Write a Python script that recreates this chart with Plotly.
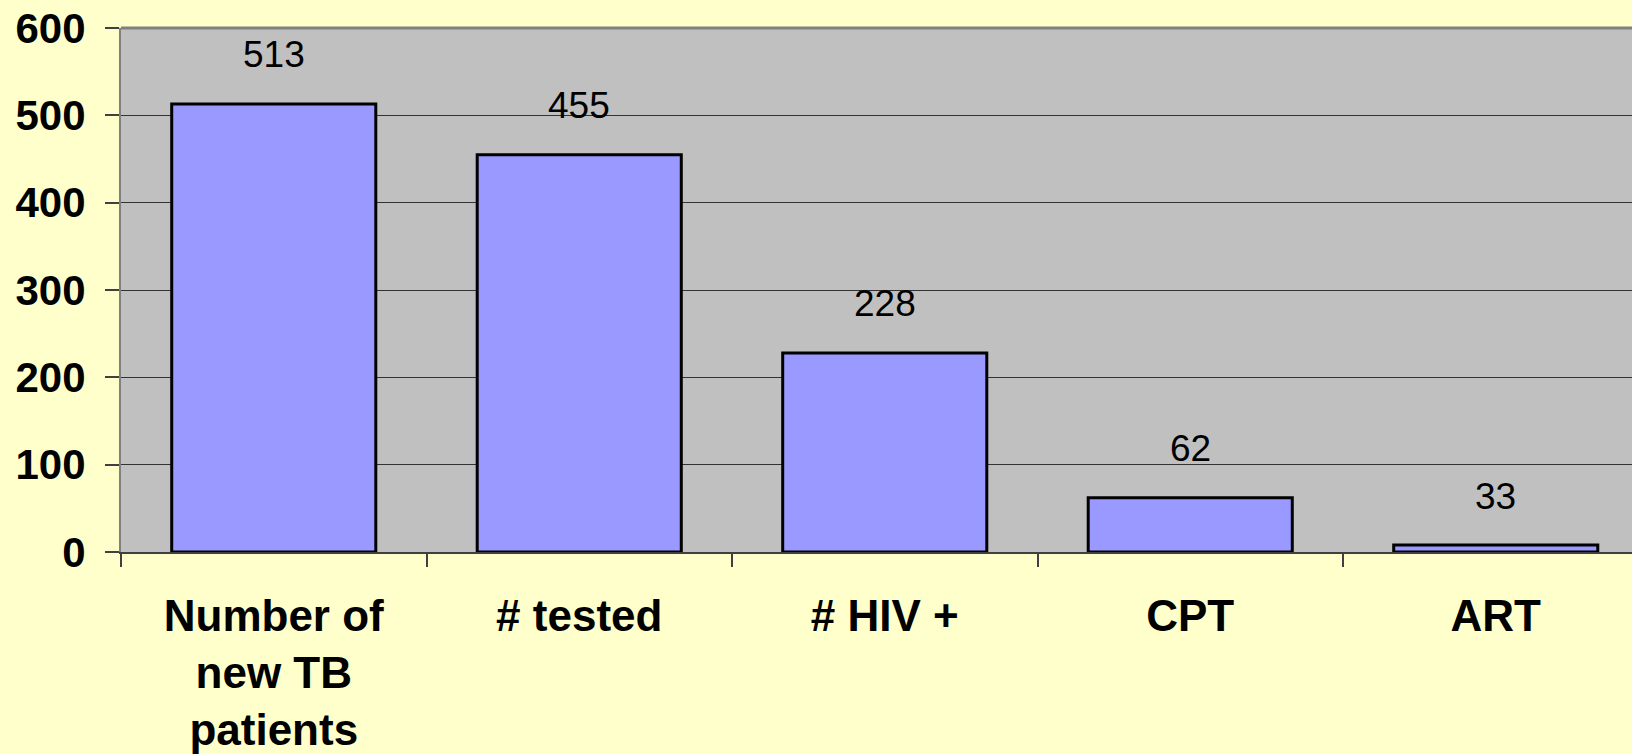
import plotly.graph_objects as go

categories = ["Number of<br>new TB<br>patients", "# tested", "# HIV +", "CPT", "ART"]
bar_values = [513, 455, 228, 62, 8]
bar_labels = ["513", "455", "228", "62", "33"]
y_ticks = [0, 100, 200, 300, 400, 500, 600]

fig = go.Figure()
fig.add_trace(go.Bar(
    x=categories, y=bar_values, width=0.668,
    marker=dict(color="#9999FF", line=dict(color="black", width=3)),
    hoverinfo="skip",
))

for c, v, t in zip(categories, bar_values, bar_labels):
    fig.add_annotation(x=c, y=v, text=t, showarrow=False, yshift=49, yanchor="middle",
                       font=dict(family="Liberation Sans, Arial", size=37, color="black"))

fig.add_shape(type="line", xref="paper", yref="paper", x0=0, x1=1, y0=1, y1=1,
              line=dict(color="#808080", width=3))

fig.update_layout(
    width=1632, height=754,
    margin=dict(l=121, r=0, t=28, b=202, pad=0),
    paper_bgcolor="#FFFFCC", plot_bgcolor="#C0C0C0",
    showlegend=False,
    font=dict(family="Liberation Sans, Arial", color="black"),
    xaxis=dict(range=[-0.5, 4.446], tickson="boundaries", ticks="outside", ticklen=13,
               tickcolor="#404040", tickwidth=1.5, showgrid=False, showline=True,
               linecolor="#404040", linewidth=2,
               tickfont=dict(family="Liberation Sans, Arial", size=44, color="black", weight="bold"),
               ticklabelstandoff=24, fixedrange=True),
    yaxis=dict(range=[0, 600], tickvals=y_ticks, ticks="outside", ticklen=14,
               tickcolor="#404040", tickwidth=1.5, showgrid=True, gridcolor="#333333",
               gridwidth=1, showline=True, linecolor="#808080", linewidth=2, zeroline=False,
               tickfont=dict(family="Liberation Sans, Arial", size=42, color="black", weight="bold"),
               ticklabelstandoff=11, fixedrange=True),
)

fig.write_html(
    "out.html",
    config={"displayModeBar": False},
    post_script="document.body.style.margin='0';document.body.style.background='#FFFFCC';",
)
